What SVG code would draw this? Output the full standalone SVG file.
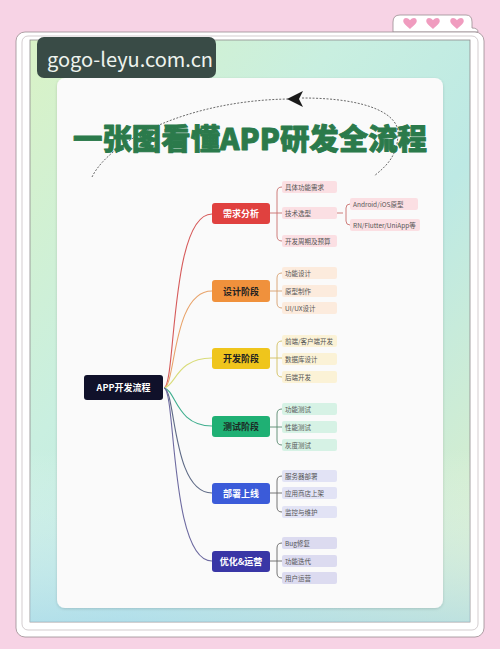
<svg xmlns="http://www.w3.org/2000/svg" width="500" height="649" viewBox="0 0 500 649">
<defs>
<linearGradient id="panel" x1="0" y1="0" x2="1" y2="1">
<stop offset="0" stop-color="#d9f2c6"/>
<stop offset="0.35" stop-color="#c9efe0"/>
<stop offset="0.6" stop-color="#bde9e4"/>
<stop offset="1" stop-color="#dcefc8"/>
</linearGradient>
<linearGradient id="panel2" x1="0" y1="0" x2="0" y2="1">
<stop offset="0" stop-color="#ffffff" stop-opacity="0"/>
<stop offset="0.7" stop-color="#ffffff" stop-opacity="0"/>
<stop offset="1" stop-color="#a9d8ee" stop-opacity="0.6"/>
</linearGradient>
<filter id="sh" x="-5%" y="-5%" width="110%" height="110%">
<feDropShadow dx="0" dy="1" stdDeviation="1.5" flood-color="#000" flood-opacity="0.15"/>
</filter>
<path id="heart" d="M0,3 C-2,1 -5,-1 -5,-3 C-5,-5.5 -2,-6 0,-3.5 C2,-6 5,-5.5 5,-3 C5,-1 2,1 0,3 Z"/>
</defs>
<style>
.t{font-family:"Noto Sans CJK SC","Noto Sans",sans-serif;}
.stage{font-family:"Noto Sans CJK SC",sans-serif;font-size:9px;font-weight:700;text-anchor:middle;dominant-baseline:central;}
.leaf{font-family:"Noto Sans CJK SC","Noto Sans",sans-serif;font-size:6.5px;fill:#555;dominant-baseline:central;}
.br{fill:none;stroke-width:1.1;}
.lk{fill:none;stroke-width:0.9;}
</style>
<rect width="500" height="649" fill="#f7d3e5"/>
<!-- frame -->
<g id="frame">
<path d="M393,32 L393,22 Q393,15 400,15 L466,15 Q472,15 472,22 L472,28 Q478,28 478,32 Z" fill="#fff" stroke="#9b8e92" stroke-width="0.8"/>
<rect x="16" y="32" width="468" height="605" rx="9" fill="#fff" stroke="#9b8e92" stroke-width="0.8"/>
<rect x="22" y="36" width="456" height="594" rx="6" fill="none" stroke="#b7adb0" stroke-width="0.6"/>
<rect x="30" y="40" width="440" height="582" fill="url(#panel)" stroke="#8e8a8c" stroke-width="0.8"/>
<rect x="30" y="40" width="440" height="582" fill="url(#panel2)"/>
<g fill="#f09cbf">
<use href="#heart" transform="translate(410,25) scale(1.35)"/>
<use href="#heart" transform="translate(433,25) scale(1.35)"/>
<use href="#heart" transform="translate(457,25) scale(1.35)"/>
</g>
<rect x="57" y="78" width="386" height="530" rx="8" fill="#fafafa" filter="url(#sh)"/>
</g>
<!-- watermark -->
<g id="watermark">
<rect x="37" y="37" width="179" height="41" rx="7" fill="#394b46"/>
<text x="47" y="67" class="t" font-size="20" fill="#eef3ee" font-family="Open Sans">gogo-leyu.com.cn</text>
</g>
<!-- title -->
<g id="title">
<path d="M92,177 C110,140 190,100 290,99" fill="none" stroke="#444" stroke-width="0.8" stroke-dasharray="2,1.5"/>
<path d="M302,98 C370,98 400,115 398,135 C397,155 388,165 374,176" fill="none" stroke="#444" stroke-width="0.8" stroke-dasharray="2,1.5"/>
<path d="M287,99 L303,91 L299,99 L303,107 Z" fill="#1a1a1a"/>
<text x="73" y="150" class="t" font-size="29" font-weight="900" fill="#2b7a4b" stroke="#2b7a4b" stroke-width="0.9" stroke-linejoin="round" textLength="354" lengthAdjust="spacingAndGlyphs">一张图看懂APP研发全流程</text>
</g>
<!-- connectors -->
<g id="connectors">
<path class="br" stroke="#d65a5a" d="M164,388 C176,386 170,214 212,214"/>
<path class="br" stroke="#e8a36a" d="M164,388 C176,386 172,291 212,291"/>
<path class="br" stroke="#d9dc7a" d="M164,388 C176,386 176,358 212,358"/>
<path class="br" stroke="#3fae8e" d="M164,388 C176,390 176,426 212,426"/>
<path class="br" stroke="#5e6a86" d="M164,388 C176,390 172,493 212,493"/>
<path class="br" stroke="#6d6aa0" d="M164,388 C176,390 170,561 212,561"/>
<g stroke="#c9706e">
<path class="lk" d="M270,213 L276,213 M282,187 Q277,187 277,192 L277,236 Q277,241 282,241 M276,213 L282,213"/>
<path class="lk" d="M337,213 L343,213 M350,204 Q346,204 346,208 L346,221 Q346,225 350,225"/>
</g>
<path class="lk" stroke="#d8a070" d="M270,291 L282,291 M282,273 Q277,273 277,278 L277,303 Q277,308 282,308"/>
<path class="lk" stroke="#d2c060" d="M270,358 L282,358 M282,341 Q277,341 277,346 L277,372 Q277,377 282,377"/>
<path class="lk" stroke="#5a8a70" d="M270,427 L282,427 M282,409 Q277,409 277,414 L277,440 Q277,445 282,445"/>
<path class="lk" stroke="#666" d="M270,493 L282,493 M282,476 Q277,476 277,481 L277,507 Q277,512 282,512"/>
<path class="lk" stroke="#666" d="M270,561 L282,561 M282,543 Q277,543 277,548 L277,573 Q277,578 282,578"/>
</g>
<!-- root -->
<g id="root">
<rect x="84" y="375" width="79" height="25" rx="3" fill="#10112a"/>
<text x="123.5" y="387.5" class="stage" fill="#fff" font-size="8.5">APP开发流程</text>
</g>
<!-- stage 1 -->
<g id="s1">
<rect x="212" y="203" width="58" height="21" rx="3" fill="#e0413f"/>
<text x="241" y="213.5" class="stage" fill="#fff">需求分析</text>
<rect x="282" y="181" width="55" height="12" rx="2" fill="#fbdfe3"/>
<text x="285" y="187" class="leaf">具体功能需求</text>
<rect x="282" y="207" width="55" height="12" rx="2" fill="#fbdfe3"/>
<text x="285" y="213" class="leaf">技术选型</text>
<rect x="282" y="235" width="55" height="12" rx="2" fill="#fbdfe3"/>
<text x="285" y="241" class="leaf">开发周期及预算</text>
<rect x="350" y="198" width="68" height="12" rx="2" fill="#fbdfe3"/>
<text x="353" y="204" class="leaf">Android/iOS原型</text>
<rect x="350" y="219" width="70" height="12" rx="2" fill="#fbdfe3"/>
<text x="353" y="225" class="leaf">RN/Flutter/UniApp等</text>
</g>
<!-- stage 2 -->
<g id="s2">
<rect x="212" y="280" width="58" height="22" rx="3" fill="#f0913c"/>
<text x="241" y="291" class="stage" fill="#222">设计阶段</text>
<rect x="282" y="267" width="55" height="12" rx="2" fill="#fcebdd"/>
<text x="285" y="273" class="leaf">功能设计</text>
<rect x="282" y="285" width="55" height="12" rx="2" fill="#fcebdd"/>
<text x="285" y="291" class="leaf">原型制作</text>
<rect x="282" y="302" width="55" height="12" rx="2" fill="#fcebdd"/>
<text x="285" y="308" class="leaf">UI/UX设计</text>
</g>
<!-- stage 3 -->
<g id="s3">
<rect x="212" y="348" width="58" height="21" rx="3" fill="#efc51c"/>
<text x="241" y="358.5" class="stage" fill="#222">开发阶段</text>
<rect x="282" y="335" width="55" height="12" rx="2" fill="#fbf2d6"/>
<text x="285" y="341" class="leaf">前端/客户端开发</text>
<rect x="282" y="353" width="55" height="12" rx="2" fill="#fbf2d6"/>
<text x="285" y="359" class="leaf">数据库设计</text>
<rect x="282" y="371" width="55" height="12" rx="2" fill="#fbf2d6"/>
<text x="285" y="377" class="leaf">后端开发</text>
</g>
<!-- stage 4 -->
<g id="s4">
<rect x="212" y="416" width="58" height="21" rx="3" fill="#1fb074"/>
<text x="241" y="426.5" class="stage" fill="#1d2a24">测试阶段</text>
<rect x="282" y="403" width="55" height="12" rx="2" fill="#d6f2e5"/>
<text x="285" y="409" class="leaf">功能测试</text>
<rect x="282" y="421" width="55" height="12" rx="2" fill="#d6f2e5"/>
<text x="285" y="427" class="leaf">性能测试</text>
<rect x="282" y="439" width="55" height="12" rx="2" fill="#d6f2e5"/>
<text x="285" y="445" class="leaf">灰度测试</text>
</g>
<!-- stage 5 -->
<g id="s5">
<rect x="212" y="483" width="58" height="21" rx="3" fill="#3b5bd9"/>
<text x="241" y="493.5" class="stage" fill="#fff">部署上线</text>
<rect x="282" y="470" width="55" height="12" rx="2" fill="#e2e3f5"/>
<text x="285" y="476" class="leaf">服务器部署</text>
<rect x="282" y="487" width="55" height="12" rx="2" fill="#e2e3f5"/>
<text x="285" y="493" class="leaf">应用商店上架</text>
<rect x="282" y="506" width="55" height="12" rx="2" fill="#e2e3f5"/>
<text x="285" y="512" class="leaf">监控与维护</text>
</g>
<!-- stage 6 -->
<g id="s6">
<rect x="212" y="551" width="58" height="21" rx="3" fill="#3936a6"/>
<text x="241" y="561.5" class="stage" fill="#fff">优化&amp;运营</text>
<rect x="282" y="537" width="55" height="12" rx="2" fill="#dcdbf0"/>
<text x="285" y="543" class="leaf">Bug修复</text>
<rect x="282" y="555" width="55" height="12" rx="2" fill="#dcdbf0"/>
<text x="285" y="561" class="leaf">功能迭代</text>
<rect x="282" y="572" width="55" height="12" rx="2" fill="#dcdbf0"/>
<text x="285" y="578" class="leaf">用户运营</text>
</g>
</svg>
